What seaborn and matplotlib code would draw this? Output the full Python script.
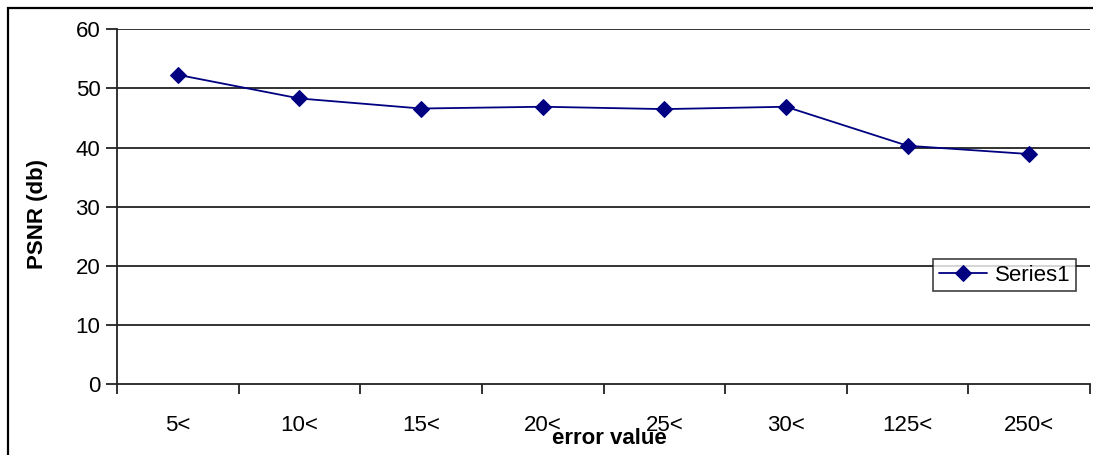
import matplotlib
matplotlib.use("Agg")
import matplotlib.pyplot as plt
import seaborn as sns
import pandas as pd
import numpy as np
from matplotlib.patches import Rectangle
from matplotlib.ticker import FixedLocator, NullFormatter

categories = ["5<", "10<", "15<", "20<", "25<", "30<", "125<", "250<"]
psnr = [52.3, 48.3, 46.6, 46.9, 46.5, 46.9, 40.3, 38.9]
yticks = [0, 10, 20, 30, 40, 50, 60]

sns.set_theme(style="white")
plt.rcParams["font.family"] = ["Liberation Sans", "DejaVu Sans"]
plt.rcParams["text.color"] = "black"
plt.rcParams["axes.labelcolor"] = "black"

df = pd.DataFrame({"x": np.arange(len(categories)), "psnr": psnr, "series": "Series1"})

fig = plt.figure(figsize=(10.93, 4.55), dpi=100)
ax = fig.add_axes([117/1093, 1-384/455, (1090-117)/1093, (384-29.3)/455])

sns.lineplot(data=df, x="x", y="psnr", hue="series", palette=["#000080"],
             marker="D", markersize=8, markeredgecolor="#000080", linewidth=1.3, ax=ax)

ax.set_xlim(-0.5, len(categories) - 0.5)
ax.set_ylim(0, 60)
ax.set_yticks(yticks)
ax.set_yticklabels([str(v) for v in yticks], fontsize=16, color="black")
for v in yticks[1:]:
    ax.axhline(v, color="#222222", lw=1.3, zorder=0)

ax.xaxis.set_major_locator(FixedLocator(np.arange(-0.5, len(categories), 1.0)))
ax.xaxis.set_major_formatter(NullFormatter())
ax.set_xticks(np.arange(len(categories)), minor=True)
ax.set_xticklabels(categories, minor=True, fontsize=16, color="black")
ax.tick_params(axis="x", which="major", direction="out", length=7, width=1.3, color="#222222", bottom=True)
ax.tick_params(axis="x", which="minor", length=0, pad=22)
ax.tick_params(axis="y", direction="out", length=8, width=1.3, color="#222222", left=True, pad=4)

for s in ["top", "right"]:
    ax.spines[s].set_visible(False)
for s in ["left", "bottom"]:
    ax.spines[s].set_color("#222222")
    ax.spines[s].set_linewidth(1.3)

ax.set_xlabel("error value", fontsize=16, fontweight="bold", color="black")
ax.xaxis.set_label_coords((609-117)/973, (384-428)/355)
ax.set_ylabel("PSNR (db)", fontsize=16, fontweight="bold", color="black")
ax.yaxis.set_label_coords((48-117)/973, (384-214)/355)

leg = ax.legend(loc="upper left", bbox_to_anchor=((933-117)/973, (384-259)/355),
                borderaxespad=0, fontsize=16, frameon=True, fancybox=False,
                handlelength=2.2, borderpad=0.25, handletextpad=0.35)
leg.get_frame().set_edgecolor("#111111")
leg.get_frame().set_linewidth(1.2)
for t in leg.get_texts():
    t.set_color("black")

fig.add_artist(Rectangle((8/1093, -0.1), 1.2, 1.1 - 8/455, transform=fig.transFigure,
                         fill=False, edgecolor="black", lw=1.6))

fig.savefig("out.png", dpi=100)
